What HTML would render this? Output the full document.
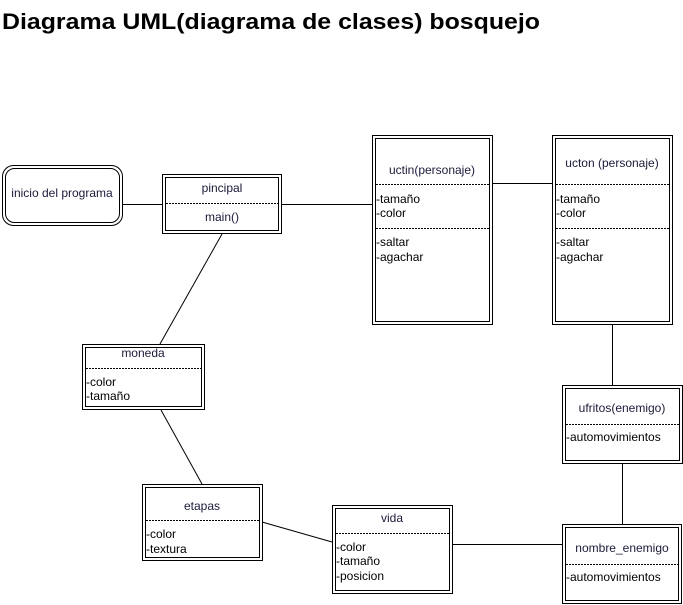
<!DOCTYPE html>
<html><head><meta charset="utf-8"><style>
html,body{margin:0;padding:0;background:#fff;width:683px;height:605px;overflow:hidden}
svg{display:block}
text{font-family:"Liberation Sans",sans-serif;font-size:12px;fill:#000}
.t{fill:#1a1a3a}
</style></head><body>
<svg width="683" height="605" viewBox="0 0 683 605" xmlns="http://www.w3.org/2000/svg">
<text x="2" y="29" style="font-size:22px;font-weight:bold" textLength="538" lengthAdjust="spacingAndGlyphs">Diagrama UML(diagrama de clases) bosquejo</text>
<g stroke="#000" stroke-width="1" fill="none">
<!-- connectors -->
<line x1="123" y1="204.5" x2="162" y2="204.5"/>
<line x1="282" y1="204.5" x2="372" y2="204.5"/>
<line x1="493" y1="183.5" x2="552" y2="183.5"/>
<line x1="222" y1="234" x2="160" y2="344"/>
<line x1="161" y1="410" x2="202" y2="484"/>
<line x1="262" y1="522" x2="332" y2="542"/>
<line x1="453" y1="544.5" x2="562" y2="544.5"/>
<line x1="612.5" y1="325" x2="612.5" y2="385"/>
<line x1="622.5" y1="464" x2="622.5" y2="524"/>
<!-- inicio -->
<rect x="2.5" y="165.5" width="120" height="60" rx="11" fill="#fff"/>
<rect x="5.5" y="168.5" width="114" height="54" rx="9"/>
<!-- boxes -->
<rect x="162.5" y="174.5" width="119" height="59" fill="#fff"/><rect x="165.5" y="177.5" width="113" height="53"/>
<rect x="372.5" y="135.5" width="120" height="189" fill="#fff"/><rect x="375.5" y="138.5" width="114" height="183"/>
<rect x="552.5" y="135.5" width="120" height="189" fill="#fff"/><rect x="555.5" y="138.5" width="114" height="183"/>
<rect x="82.5" y="344.5" width="122" height="65" fill="#fff"/><rect x="85.5" y="347.5" width="116" height="59"/>
<rect x="562.5" y="385.5" width="120" height="78" fill="#fff"/><rect x="565.5" y="388.5" width="114" height="72"/>
<rect x="142.5" y="484.5" width="120" height="76" fill="#fff"/><rect x="145.5" y="487.5" width="114" height="70"/>
<rect x="332.5" y="505.5" width="120" height="88" fill="#fff"/><rect x="335.5" y="508.5" width="114" height="82"/>
<rect x="562.5" y="524.5" width="119" height="79" fill="#fff"/><rect x="565.5" y="527.5" width="113" height="73"/>
</g>
<g stroke="#000" stroke-width="1" stroke-dasharray="2,1">
<line x1="166" y1="203.5" x2="278" y2="203.5"/>
<line x1="376" y1="184.5" x2="489" y2="184.5"/>
<line x1="376" y1="228.5" x2="489" y2="228.5"/>
<line x1="556" y1="184.5" x2="669" y2="184.5"/>
<line x1="556" y1="228.5" x2="669" y2="228.5"/>
<line x1="86" y1="368.5" x2="201" y2="368.5"/>
<line x1="566" y1="424.5" x2="679" y2="424.5"/>
<line x1="146" y1="520.5" x2="259" y2="520.5"/>
<line x1="336" y1="533.5" x2="449" y2="533.5"/>
<line x1="566" y1="564.5" x2="678" y2="564.5"/>
</g>
<text class="t" x="62" y="197" text-anchor="middle">inicio del programa</text>
<text class="t" x="222" y="192" text-anchor="middle">pincipal</text>
<text class="t" x="222" y="221" text-anchor="middle">main()</text>
<text class="t" x="432" y="174" text-anchor="middle">uctin(personaje)</text>
<text x="376" y="203">-tamaño</text><text x="376" y="217">-color</text>
<text x="376" y="246">-saltar</text><text x="376" y="261">-agachar</text>
<text class="t" x="612" y="167" text-anchor="middle">ucton (personaje)</text>
<text x="556" y="203">-tamaño</text><text x="556" y="217">-color</text>
<text x="556" y="246">-saltar</text><text x="556" y="261">-agachar</text>
<text class="t" x="143" y="357" text-anchor="middle">moneda</text>
<text x="86" y="386">-color</text><text x="86" y="400">-tamaño</text>
<text class="t" x="622" y="412" text-anchor="middle">ufritos(enemigo)</text>
<text x="566" y="441">-automovimientos</text>
<text class="t" x="202" y="510" text-anchor="middle">etapas</text>
<text x="146" y="538">-color</text><text x="146" y="553">-textura</text>
<text class="t" x="392" y="522" text-anchor="middle">vida</text>
<text x="336" y="551">-color</text><text x="336" y="565">-tamaño</text><text x="336" y="580">-posicion</text>
<text class="t" x="622" y="552" text-anchor="middle">nombre_enemigo</text>
<text x="566" y="581">-automovimientos</text>
</svg>
</body></html>
